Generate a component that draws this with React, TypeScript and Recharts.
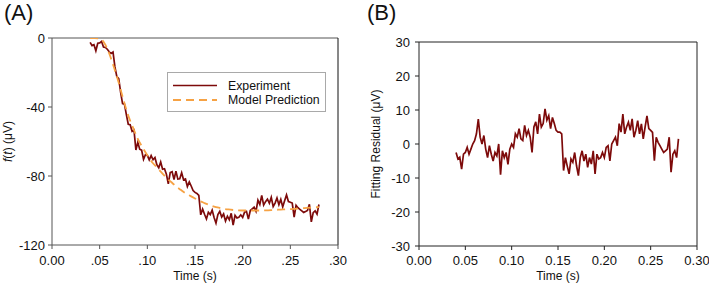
import React from "react";
import { LineChart, Line, XAxis, YAxis, Legend, ReferenceLine, Label } from "recharts";

const FONT = "'Liberation Sans', Arial, Helvetica, sans-serif";

// sampling grid of the measured trace (s)
const SAMPLE_START = 0.04;
const SAMPLE_STEP = 0.002;

// Panel A: measured f(t) in µV, one value per sample
const experimentValues = [
  -2.5, -4.4, -3.9, -7.4, -3, -2.8, -2, -5.2, -5.5, -6.5,
  -8, -9, -8.2, -16.8, -22.4, -23.5, -31.5, -38, -38.3, -44.4,
  -50, -50.3, -54.1, -53.3, -64.9, -60.5, -64.5, -65, -70.4, -67.7,
  -68, -70.6, -68.2, -70.6, -69.3, -73.5, -75.2, -71.9, -76.1, -75.8,
  -79, -84.5, -78, -77.5, -82, -77.2, -81.8, -81.6, -78.1, -82.2,
  -81.7, -86.1, -83.4, -85.8, -88.4, -89.5, -90.1, -91.2, -102.5, -99.2,
  -102.2, -104.9, -101, -102.4, -99.8, -104.1, -107.3, -102.3, -100.5, -103.8,
  -102, -106.1, -103.3, -105.4, -101.6, -108.5, -102.8, -104.3, -103.9, -102.5,
  -104, -101, -100.5, -105, -100, -99, -98, -100.5, -94, -96.5,
  -91.2, -96.9, -94.9, -93.4, -95.8, -92.4, -97.7, -95.7, -92.7, -96.6,
  -93.6, -97.9, -94.4, -91, -94.8, -95.2, -95.7, -103.9, -97, -98.4,
  -99.3, -100.2, -101.1, -100.6, -100, -96.4, -106.6, -101.2, -100.2, -102.1,
  -96.5,
];

// Panel B: fitting residual in µV, one value per sample
const residualValues = [
  -2.5, -4.4, -3.9, -7.4, -3, -2.5, -1, -3, -1.5, 0,
  1, 3, 7.3, 2, 0, 2.5, -1.5, -4, -0.5, -3,
  -5, -2.5, -3.5, 0, -9, -2, -4, -2.5, -6, -1.5,
  0, -1, 3, 2, 4.5, 1.5, 1, 5.5, 2.5, 4,
  2, -2.5, 5, 6.5, 3, 8.8, 5, 6, 10.3, 7,
  8.3, 4.5, 7.8, 6, 4, 3.5, 3.5, 3, -7.8, -4,
  -6.5, -8.8, -4.4, -5.4, -2.5, -6.4, -9.3, -4, -2, -5,
  -3, -6.9, -4, -5.9, -2, -8.8, -3, -4.4, -4, -2.5,
  -4, -1, -0.5, -5, 0, 1, 2, -0.5, 6, 3.5,
  8.8, 3, 5, 6.4, 4, 7.4, 2, 4, 6.9, 3,
  5.9, 1.5, 5, 8.3, 4.5, 4, 3.4, -4.9, 2, 0.5,
  -0.5, -1.5, -2.5, -2, -1.5, 2, -8.3, -3, -2, -4,
  1.5,
];

// Model prediction
const modelTimes = [
  0.04, 0.045, 0.05, 0.055, 0.06, 0.065, 0.07, 0.075, 0.08, 0.085,
  0.09, 0.095, 0.1, 0.105, 0.11, 0.115, 0.12, 0.125, 0.13, 0.135,
  0.14, 0.145, 0.15, 0.155, 0.16, 0.165, 0.17, 0.175, 0.18, 0.185,
  0.19, 0.195, 0.2, 0.205, 0.21, 0.215, 0.22, 0.225, 0.23, 0.235,
  0.24, 0.245, 0.25, 0.255, 0.26, 0.265, 0.27, 0.275, 0.28,
];
const modelValues = [
  0, 0, -0.3, -3, -9, -17, -26, -36, -45, -52,
  -58.5, -63.5, -68, -72, -75, -78, -81, -83.5, -86, -88,
  -90, -91.5, -93, -94.5, -95.7, -96.8, -97.7, -98.4, -99, -99.4,
  -99.7, -99.9, -100, -100, -100, -100, -100, -99.9, -99.8, -99.6,
  -99.5, -99.3, -99.2, -99, -98.8, -98.6, -98.4, -98.2, -98,
];

const xTicks = [0, 0.05, 0.1, 0.15, 0.2, 0.25, 0.3];
const xTickLabelsA = ["0.00", ".05", ".10", ".15", ".20", ".25", ".30"];
const xTickLabelsB = ["0.00", "0.05", "0.10", "0.15", "0.20", "0.25", "0.30"];
const yTicksA = [-120, -80, -40, 0];
const yTicksB = [-30, -20, -10, 0, 10, 20, 30];
const seriesNames = ["Experiment", "Model Prediction"];
const panelTitles = ["(A)", "(B)"];
const xAxisTitle = "Time (s)";
const yAxisTitleB = "Fitting Residual (\u03bcV)";

const RED = "#7d0a0a";
const ORANGE = "#f6a244";

const sampleTime = (i: number) => +(SAMPLE_START + i * SAMPLE_STEP).toFixed(3);
const experimentData = experimentValues.map((v, i) => ({ t: sampleTime(i), v }));
const residualData = residualValues.map((v, i) => ({ t: sampleTime(i), v }));
const modelData = modelTimes.map((t, i) => ({ t, v: modelValues[i] }));

const tickStyle = { fontSize: 13, fill: "#111", fontFamily: FONT };

const LegendBox = () => (
  <div
    style={{
      position: "relative",
      width: 157,
      height: 38,
      border: "1px solid #a9a9a9",
      background: "#fff",
      fontFamily: FONT,
      fontSize: 12.3,
      color: "#111",
      lineHeight: "14px",
    }}
  >
    <svg width={52} height={38} style={{ position: "absolute", left: 0, top: 0 }}>
      <line x1={5} x2={49} y1={12.5} y2={12.5} stroke={RED} strokeWidth={1.6} />
      <line x1={5} x2={49} y1={27} y2={27} stroke={ORANGE} strokeWidth={1.8} strokeDasharray="8 5" />
    </svg>
    <div style={{ position: "absolute", left: 60, top: 6 }}>{seriesNames[0]}</div>
    <div style={{ position: "absolute", left: 60, top: 20 }}>{seriesNames[1]}</div>
  </div>
);

export default function App() {
  return (
    <div style={{ position: "absolute", left: 0, top: 0, width: 709, height: 290, background: "#fff", fontFamily: FONT }}>
      <div style={{ position: "absolute", left: 4, top: 0, fontSize: 22, lineHeight: "normal", fontFamily: FONT, color: "#111" }}>{panelTitles[0]}</div>
      <div style={{ position: "absolute", left: 367, top: 0, fontSize: 22, lineHeight: "normal", fontFamily: FONT, color: "#111" }}>{panelTitles[1]}</div>

      <div style={{ position: "absolute", left: 0, top: 0 }}>
        <LineChart width={356} height={290} margin={{ top: 38, right: 18, bottom: 15, left: 12 }}>
          <XAxis
            type="number"
            dataKey="t"
            domain={[0, 0.3]}
            ticks={xTicks}
            interval={0}
            allowDataOverflow
            height={30}
            stroke="#555"
            tickSize={4}
            tickMargin={7}
            tick={tickStyle}
            tickFormatter={(_v: number, i: number) => xTickLabelsA[i]}
          >
            <Label
              content={({ viewBox }: any) => (
                <text x={viewBox.x + viewBox.width / 2} y={276} textAnchor="middle" dominantBaseline="central" fontSize={12} fontFamily={FONT} fill="#111">
                  {xAxisTitle}
                </text>
              )}
            />
          </XAxis>
          <YAxis
            type="number"
            domain={[-120, 0]}
            ticks={yTicksA}
            interval={0}
            allowDataOverflow
            width={40}
            stroke="#555"
            tickSize={4}
            tickMargin={3}
            tick={tickStyle}
          >
            <Label
              content={({ viewBox }: any) => {
                const cy = viewBox.y + viewBox.height / 2;
                return (
                  <text x={8} y={cy} transform={`rotate(-90 8 ${cy})`} textAnchor="middle" dominantBaseline="central" fontSize={12} fontFamily={FONT} fill="#111">
                    <tspan fontStyle="italic">f</tspan>(<tspan fontStyle="italic">t</tspan>) ({"\u03bcV"})
                  </text>
                );
              }}
            />
          </YAxis>
          <ReferenceLine y={0} stroke="#555" strokeWidth={1} />
          <ReferenceLine x={0.3} stroke="#111" strokeWidth={1} />
          <Line
            data={experimentData}
            dataKey="v"
            name={seriesNames[0]}
            type="linear"
            stroke={RED}
            strokeWidth={1.7}
            dot={false}
            isAnimationActive={false}
          />
          <Line
            data={modelData}
            dataKey="v"
            name={seriesNames[1]}
            type="monotone"
            stroke={ORANGE}
            strokeWidth={1.8}
            strokeDasharray="8 5"
            dot={false}
            isAnimationActive={false}
          />
          <Legend
            layout="vertical"
            verticalAlign="middle"
            align="center"
            content={() => <LegendBox />}
            wrapperStyle={{ left: 167, top: 72, width: 160, height: 42 }}
          />
        </LineChart>
      </div>

      <div style={{ position: "absolute", left: 355, top: 0 }}>
        <LineChart width={354} height={290} margin={{ top: 42, right: 12, bottom: 14, left: 24 }}>
          <XAxis
            type="number"
            dataKey="t"
            domain={[0, 0.3]}
            ticks={xTicks}
            interval={0}
            allowDataOverflow
            height={30}
            stroke="#222"
            tickSize={4}
            tickMargin={6}
            tick={tickStyle}
            tickFormatter={(_v: number, i: number) => xTickLabelsB[i]}
          >
            <Label
              content={({ viewBox }: any) => (
                <text x={viewBox.x + viewBox.width / 2} y={276} textAnchor="middle" dominantBaseline="central" fontSize={12} fontFamily={FONT} fill="#111">
                  {xAxisTitle}
                </text>
              )}
            />
          </XAxis>
          <YAxis
            type="number"
            domain={[-30, 30]}
            ticks={yTicksB}
            interval={0}
            allowDataOverflow
            width={40}
            stroke="#222"
            tickSize={4}
            tickMargin={5}
            tick={tickStyle}
          >
            <Label
              content={({ viewBox }: any) => {
                const cy = viewBox.y + viewBox.height / 2;
                return (
                  <text x={20.5} y={cy} transform={`rotate(-90 20.5 ${cy})`} textAnchor="middle" dominantBaseline="central" fontSize={12} fontFamily={FONT} fill="#111">
                    {yAxisTitleB}
                  </text>
                );
              }}
            />
          </YAxis>
          <ReferenceLine y={30} stroke="#222" strokeWidth={1} />
          <ReferenceLine x={0.3} stroke="#222" strokeWidth={1} />
          <Line
            data={residualData}
            dataKey="v"
            type="linear"
            stroke={RED}
            strokeWidth={1.7}
            dot={false}
            isAnimationActive={false}
          />
        </LineChart>
      </div>
    </div>
  );
}
